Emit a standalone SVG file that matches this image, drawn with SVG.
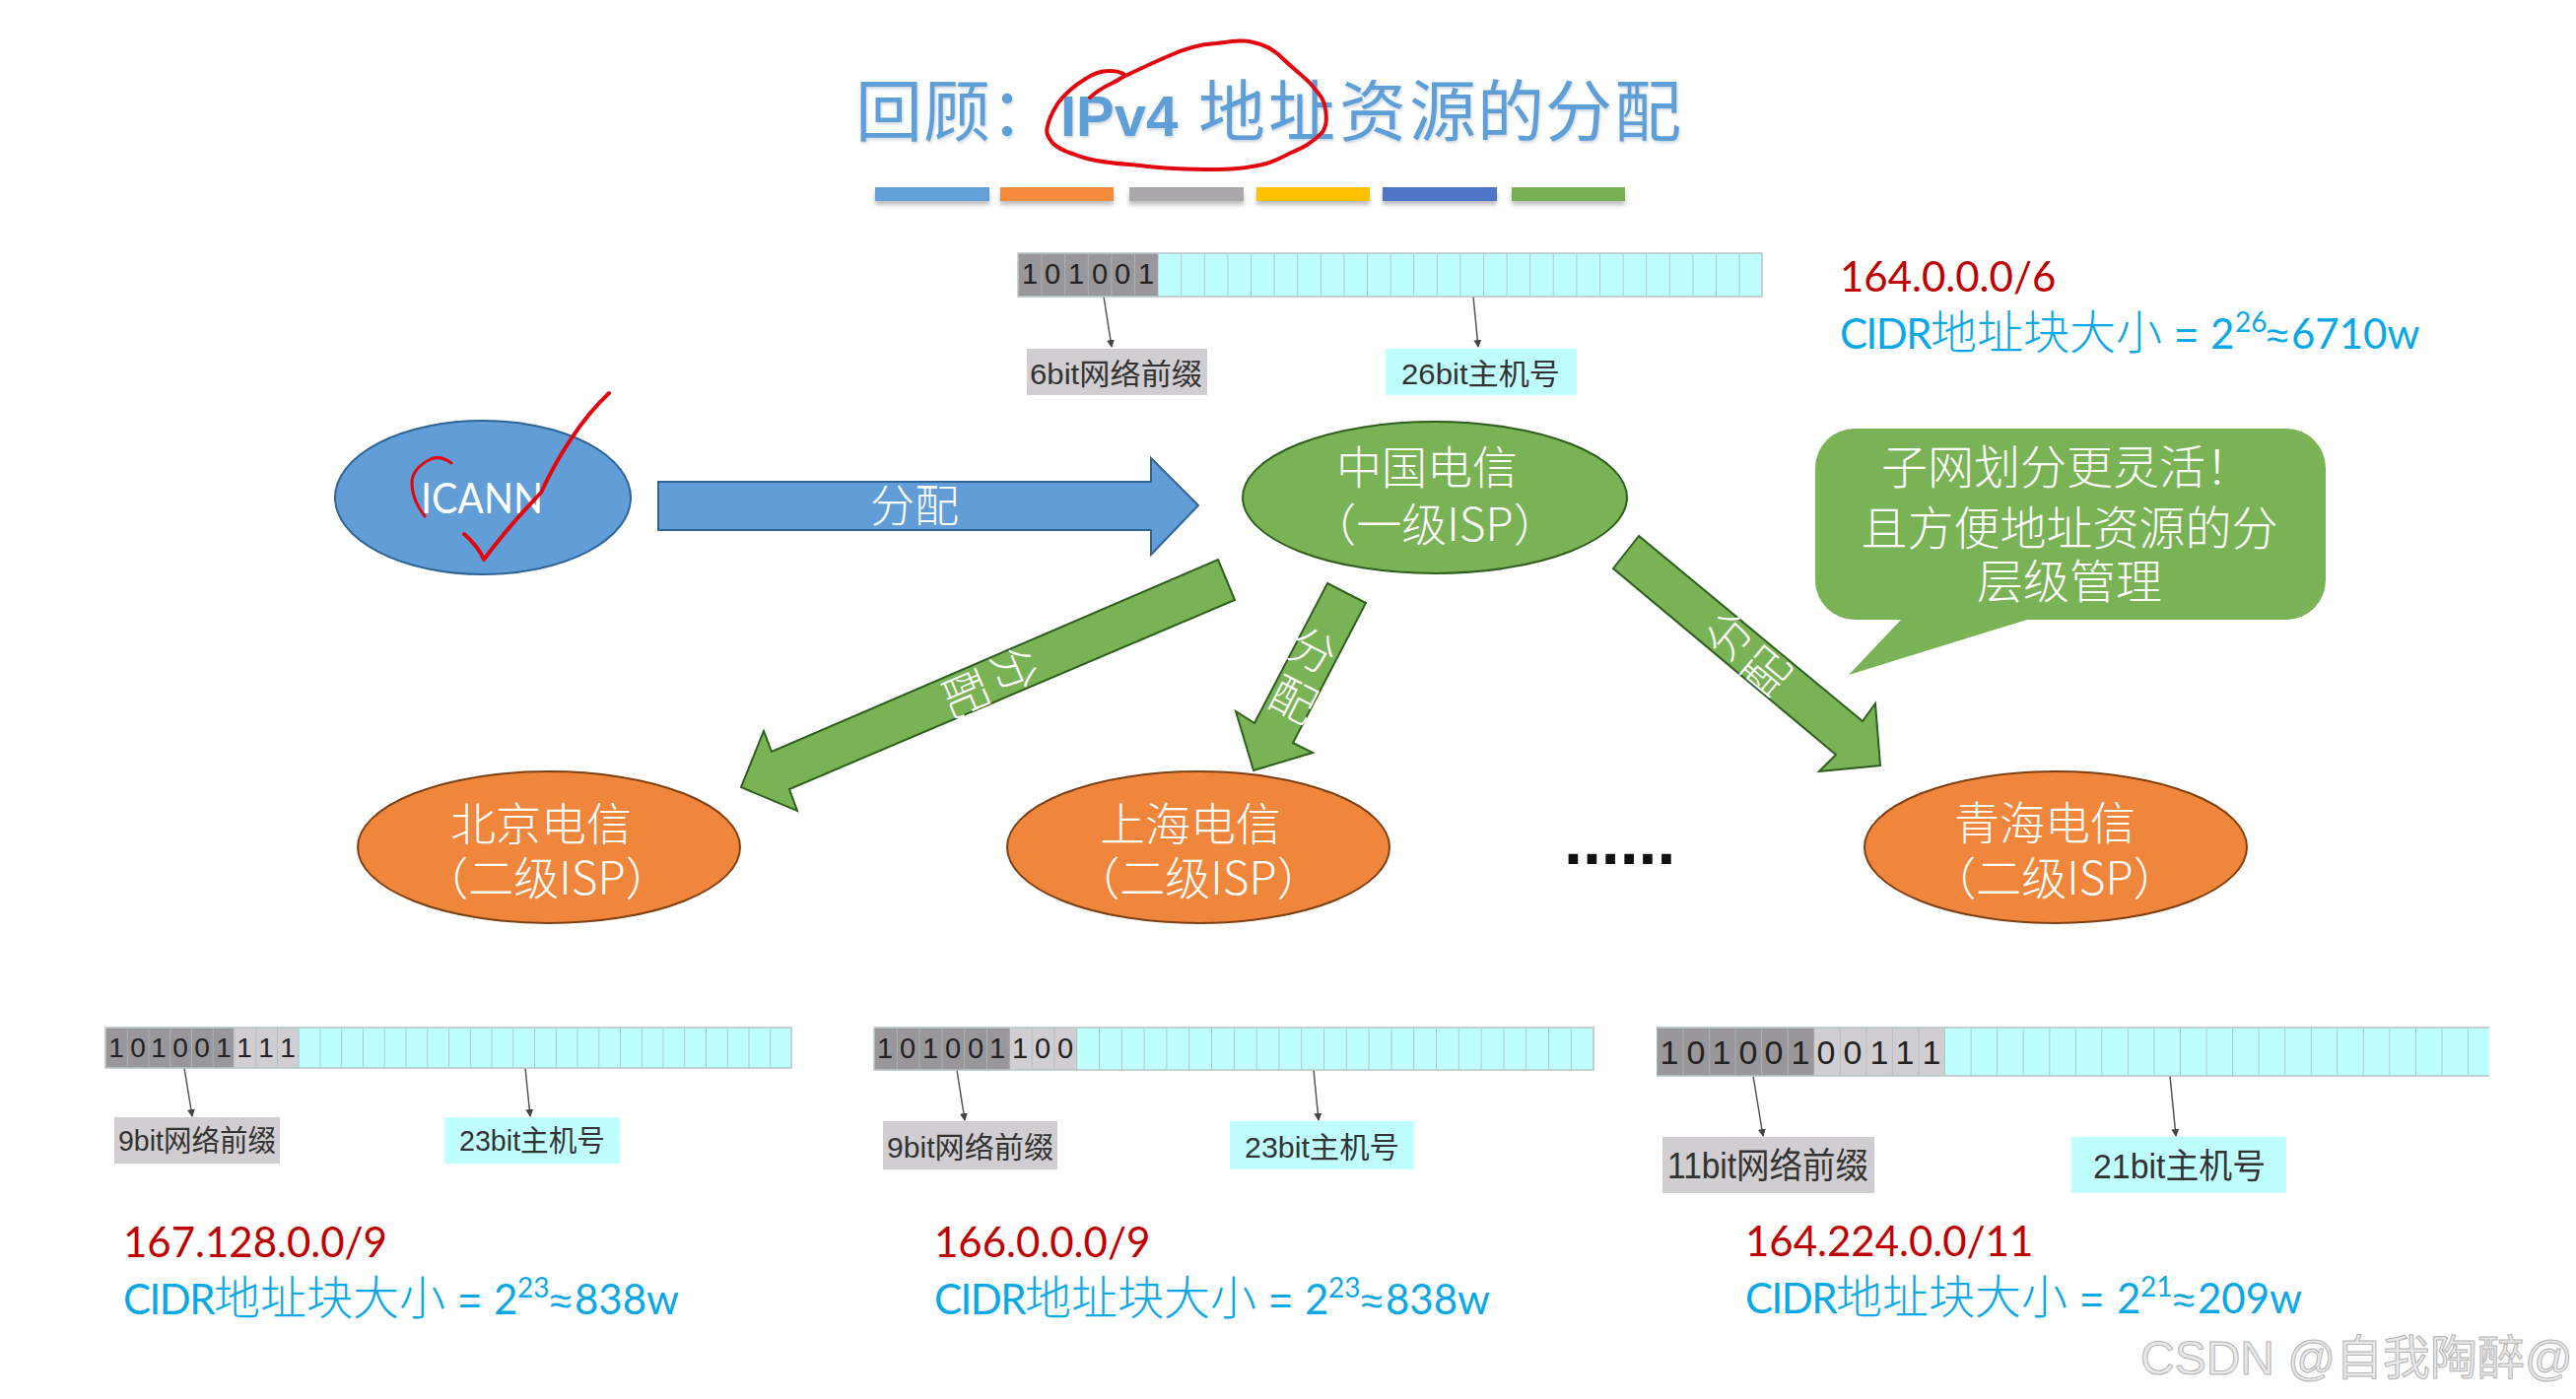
<svg xmlns="http://www.w3.org/2000/svg" width="2614" height="1420" viewBox="0 0 2614 1420">
<style>
text{font-family:"Noto Sans CJK SC","Liberation Sans",sans-serif}
.title{font-size:68px;fill:#5f9fd8;font-weight:400}
.titlel{font-family:"Liberation Sans","Noto Sans CJK SC",sans-serif;font-weight:700;font-size:58px}
.w{fill:#fff;text-anchor:middle;font-weight:300}
.node{font-size:46px}
.call{font-size:47px}
.lab{font-family:"Liberation Sans","Noto Sans CJK SC",sans-serif;fill:#333;font-size:30px}
.dig{font-family:"Liberation Sans",sans-serif;fill:#222;text-anchor:middle}
.red{font-family:Lato,"Noto Sans CJK SC",sans-serif;font-size:42px;fill:#c00000}
.cyan{font-family:Lato,"Noto Sans CJK SC",sans-serif;font-size:42px;fill:#0aa8e6}
.cn{font-family:"Noto Sans CJK SC",sans-serif;font-size:47px;font-weight:300}
.sup{font-size:28px}
.eq{font-family:"Liberation Sans",sans-serif;font-size:40px}
.blue{fill:#619dd7;stroke:#2f6496;stroke-width:2}
.green{fill:#7ab356;stroke:#2f5f1e;stroke-width:2}
.orange{fill:#f0853c;stroke:#7d4013;stroke-width:2}
.dark{fill:#99979a}
.light{fill:#d0ced0}
.host{fill:#c0ffff}
.frame{stroke:#b8c4c4;stroke-width:1.5}
.leader{stroke:#555;stroke-width:1.5;fill:none;marker-end:url(#tip)}
.ink{fill:none;stroke:#e4060f;stroke-width:4;stroke-linecap:round;stroke-linejoin:round}
.bar{filter:url(#sh)}
</style>
<defs>
<marker id="tip" viewBox="0 0 8 10" refX="7" refY="5" markerWidth="8" markerHeight="10" markerUnits="userSpaceOnUse" orient="auto"><path d="M0,1 L8,5 L0,9 Z" fill="#444"/></marker>
<filter id="sh" x="-5%" y="-20%" width="110%" height="180%"><feDropShadow dx="0" dy="4" stdDeviation="2" flood-color="#888" flood-opacity=".55"/></filter>
<filter id="tsh" x="-5%" y="-10%" width="110%" height="125%"><feDropShadow dx="1" dy="2" stdDeviation="1.5" flood-color="#9ab" flood-opacity=".5"/></filter>
<pattern id="c0" patternUnits="userSpaceOnUse" x="1033" y="257" width="23.6" height="44"><path d="M0,0V44" stroke="#a8bcbc" stroke-width="1.5"/></pattern>
<pattern id="c1" patternUnits="userSpaceOnUse" x="107" y="1043" width="21.75" height="41"><path d="M0,0V41" stroke="#a8bcbc" stroke-width="1.5"/></pattern>
<pattern id="c2" patternUnits="userSpaceOnUse" x="887" y="1043" width="22.8" height="43"><path d="M0,0V43" stroke="#a8bcbc" stroke-width="1.5"/></pattern>
<pattern id="c3" patternUnits="userSpaceOnUse" x="1681" y="1043" width="26.55" height="49"><path d="M0,0V49" stroke="#a8bcbc" stroke-width="1.5"/></pattern>
</defs>
<rect width="2614" height="1420" fill="#fff"/>

<g id="title" filter="url(#tsh)">
<text class="title" y="138" x="868 937 1005">回顾：</text>
<text class="title titlel" x="1076" y="138">IPv4</text>
<text class="title" y="138" x="1216 1287 1359 1430 1499 1568 1638">地址资源的分配</text>
</g>
<g id="colour-bars" class="bar">
<rect x="888" y="190" width="116" height="14" fill="#62a0d8"/>
<rect x="1015" y="190" width="115" height="14" fill="#f58a3c"/>
<rect x="1146" y="190" width="116" height="14" fill="#aaa8aa"/>
<rect x="1275" y="190" width="115" height="14" fill="#ffc000"/>
<rect x="1403" y="190" width="116" height="14" fill="#4f76c6"/>
<rect x="1534" y="190" width="115" height="14" fill="#76b053"/>
</g>

<g id="connectors">
<polygon id="arrow-icann-telecom" class="blue" points="668,489 1168,489 1168,465 1216,513 1168,563 1168,538 668,538"/>
<polygon id="arrow-beijing" class="green" points="1236,568 1253,609 801,801 809,823 752,799 775,742 783,763"/>
<polygon id="arrow-shanghai" class="green" points="1347,592 1386,612 1312,754 1332,764 1272,782 1254,722 1273,734"/>
<polygon id="arrow-qinghai" class="green" points="1663,544 1637,577 1863,766 1846,783 1908,777 1903,714 1890,732"/>
<line class="leader" x1="1120" y1="301" x2="1128" y2="352"/>
<line class="leader" x1="1495" y1="301" x2="1500" y2="352"/>
<line class="leader" x1="187" y1="1084" x2="195" y2="1133"/>
<line class="leader" x1="533" y1="1084" x2="538" y2="1133"/>
<line class="leader" x1="971" y1="1086" x2="979" y2="1137"/>
<line class="leader" x1="1333" y1="1086" x2="1338" y2="1137"/>
<line class="leader" x1="1779" y1="1092" x2="1789" y2="1153"/>
<line class="leader" x1="2202" y1="1092" x2="2208" y2="1153"/>
<text class="w" x="928" y="530" font-size="45">分配</text>
<text class="w" font-size="46" transform="translate(1029,680) rotate(67) translate(0,16)">分</text>
<text class="w" font-size="46" transform="translate(979,704) rotate(67) translate(0,16)">配</text>
<text class="w" font-size="46" transform="translate(1332,661) rotate(27) translate(0,16)">分</text>
<text class="w" font-size="46" transform="translate(1312,711) rotate(27) translate(0,16)">配</text>
<text class="w" font-size="46" transform="translate(1755,645) rotate(-50) translate(0,16)">分</text>
<text class="w" font-size="46" transform="translate(1793,682) rotate(-50) translate(0,16)">配</text>
</g>

<g id="node-icann">
<ellipse class="blue" cx="490" cy="505" rx="150" ry="78"/>
<text x="427" y="521" style="font-family:Lato,sans-serif" font-size="42" fill="#fff" textLength="124" lengthAdjust="spacingAndGlyphs">ICANN</text>
</g>
<g id="node-telecom">
<ellipse class="green" cx="1456" cy="505" rx="195" ry="77"/>
<text class="w node" x="1448" y="491">中国电信</text>
<text class="w node" x="1456" y="549">（一级ISP）</text>
</g>
<g id="node-beijing">
<ellipse class="orange" cx="557" cy="860" rx="194" ry="77"/>
<text class="w node" x="549" y="853">北京电信</text>
<text class="w node" x="555" y="908">（二级ISP）</text>
</g>
<g id="node-shanghai">
<ellipse class="orange" cx="1216" cy="860" rx="194" ry="77"/>
<text class="w node" x="1208" y="853">上海电信</text>
<text class="w node" x="1216" y="908">（二级ISP）</text>
</g>
<g id="node-qinghai">
<ellipse class="orange" cx="2086" cy="860" rx="194" ry="77"/>
<text class="w node" x="2075" y="852">青海电信</text>
<text class="w node" x="2085" y="908">（二级ISP）</text>
</g>
<g id="ellipsis"><text x="1587" y="877" font-size="68" font-weight="700" style="font-family:'Liberation Sans',sans-serif" fill="#111">......</text></g>
<g id="callout">
<path d="M1882,435 H2320 A40,40 0 0 1 2360,475 V589 A40,40 0 0 1 2320,629 H2057 L1876,685 L1929,629 H1882 A40,40 0 0 1 1842,589 V475 A40,40 0 0 1 1882,435 Z" fill="#7ab356"/>
<text class="w call" x="2097" y="491">子网划分更灵活！</text>
<text class="w call" x="2100" y="553">且方便地址资源的分</text>
<text class="w call" x="2100" y="607">层级管理</text>
</g>

<g id="block-top">
<rect class="dark" x="1033" y="257" width="142" height="44"/>
<rect class="host" x="1175" y="257" width="613" height="44"/>
<rect class="frame" x="1033" y="257" width="755" height="44" fill="url(#c0)"/>
<text class="dig" font-size="29" y="288" x="1045 1068 1092 1116 1139 1163">101001</text>
<rect x="1042" y="354" width="183" height="47" fill="#d0ced0"/>
<text class="lab" x="1045" y="390" textLength="175" lengthAdjust="spacingAndGlyphs">6bit网络前缀</text>
<rect x="1406" y="354" width="194" height="47" fill="#c0ffff"/>
<text class="lab" x="1422" y="390" textLength="161" lengthAdjust="spacingAndGlyphs">26bit主机号</text>
<text class="red" x="1867" y="296">164.0.0.0/6</text>
<text class="cyan" y="354"><tspan x="1867" letter-spacing="-1.5">CIDR</tspan><tspan class="cn" x="1959">地址块大小</tspan><tspan class="eq" x="2207">=</tspan><tspan x="2243">2</tspan><tspan class="sup" x="2268" dy="-17">26</tspan><tspan class="eq" x="2300" dy="17">≈</tspan><tspan x="2325">6710w</tspan></text>
</g>
<g id="block-beijing">
<rect class="dark" x="107" y="1043" width="130" height="41"/>
<rect class="light" x="237" y="1043" width="66" height="41"/>
<rect class="host" x="303" y="1043" width="500" height="41"/>
<rect class="frame" x="107" y="1043" width="696" height="41" fill="url(#c1)"/>
<text class="dig" font-size="28" y="1073" x="118 140 161 183 205 227 248 270 292">101001111</text>
<rect x="116" y="1134" width="168" height="47" fill="#d0ced0"/>
<text class="lab" x="120" y="1168" textLength="160" lengthAdjust="spacingAndGlyphs">9bit网络前缀</text>
<rect x="451" y="1134" width="178" height="47" fill="#c0ffff"/>
<text class="lab" x="466" y="1168" textLength="148" lengthAdjust="spacingAndGlyphs">23bit主机号</text>
<text class="red" x="125" y="1276">167.128.0.0/9</text>
<text class="cyan" y="1334"><tspan x="125" letter-spacing="-1.5">CIDR</tspan><tspan class="cn" x="217">地址块大小</tspan><tspan class="eq" x="465">=</tspan><tspan x="501">2</tspan><tspan class="sup" x="525" dy="-17">23</tspan><tspan class="eq" x="558" dy="17">≈</tspan><tspan x="583">838w</tspan></text>
</g>
<g id="block-shanghai">
<rect class="dark" x="887" y="1043" width="138" height="43"/>
<rect class="light" x="1025" y="1043" width="68" height="43"/>
<rect class="host" x="1093" y="1043" width="524" height="43"/>
<rect class="frame" x="887" y="1043" width="730" height="43" fill="url(#c2)"/>
<text class="dig" font-size="29" y="1074" x="898 921 944 967 990 1012 1035 1058 1081">101001100</text>
<rect x="896" y="1138" width="177" height="49" fill="#d0ced0"/>
<text class="lab" x="900" y="1175" textLength="169" lengthAdjust="spacingAndGlyphs">9bit网络前缀</text>
<rect x="1248" y="1138" width="187" height="49" fill="#c0ffff"/>
<text class="lab" x="1263" y="1175" textLength="157" lengthAdjust="spacingAndGlyphs">23bit主机号</text>
<text class="red" x="948" y="1276">166.0.0.0/9</text>
<text class="cyan" y="1334"><tspan x="948" letter-spacing="-1.5">CIDR</tspan><tspan class="cn" x="1040">地址块大小</tspan><tspan class="eq" x="1288">=</tspan><tspan x="1324">2</tspan><tspan class="sup" x="1348" dy="-17">23</tspan><tspan class="eq" x="1381" dy="17">≈</tspan><tspan x="1406">838w</tspan></text>
</g>
<g id="block-qinghai">
<rect class="dark" x="1681" y="1043" width="160" height="49"/>
<rect class="light" x="1841" y="1043" width="132" height="49"/>
<rect class="host" x="1973" y="1043" width="553" height="49"/>
<rect x="1681" y="1043" width="845" height="49" fill="url(#c3)"/>
<path d="M1681,1043H2526M1681,1092H2526" class="frame" fill="none"/>
<text class="dig" font-size="34" y="1080" x="1694 1721 1747 1774 1800 1827 1853 1880 1907 1933 1960">10100100111</text>
<rect x="1687" y="1154" width="215" height="57" fill="#d0ced0"/>
<text class="lab" x="1692" y="1196" style="font-size:36px" textLength="204" lengthAdjust="spacingAndGlyphs">11bit网络前缀</text>
<rect x="2102" y="1154" width="218" height="57" fill="#c0ffff"/>
<text class="lab" x="2124" y="1196" style="font-size:35px" textLength="175" lengthAdjust="spacingAndGlyphs">21bit主机号</text>
<text class="red" x="1771" y="1275">164.224.0.0/11</text>
<text class="cyan" y="1333"><tspan x="1771" letter-spacing="-1.5">CIDR</tspan><tspan class="cn" x="1863">地址块大小</tspan><tspan class="eq" x="2111">=</tspan><tspan x="2148">2</tspan><tspan class="sup" x="2172" dy="-17">21</tspan><tspan class="eq" x="2205" dy="17">≈</tspan><tspan x="2230">209w</tspan></text>
</g>

<g id="annotations">
<path class="ink" d="M1106,99 C1120,86 1128,86 1138,79 C1152,72 1165,66 1183,58 C1200,50 1215,45 1234,44 C1250,42 1262,40 1272,43 C1285,46 1290,50 1297,55 C1310,68 1320,75 1329,84 C1338,95 1344,100 1345,111 C1347,122 1346,128 1342,134 C1332,145 1322,150 1310,155 C1300,160 1295,163 1285,166 C1265,171 1250,172 1234,172 C1205,172 1180,171 1157,168 C1135,166 1115,165 1100,160 C1085,155 1075,152 1068,145 C1063,138 1061,135 1063,128 C1065,118 1069,112 1074,104 C1082,94 1090,87 1100,81 C1110,74 1118,72 1125,72 C1132,72 1138,73 1141,76"/>
<path id="tick" class="ink" d="M471,542 C480,550 487,558 491,568 C515,535 535,515 549,500 C565,465 590,425 618,399"/>
<path id="c-mark" class="ink" style="stroke-width:3" d="M458,470 C450,464 442,464 437,466 C425,472 418,480 418,490 C418,505 424,515 431,524"/>
</g>
<g id="watermark"><text x="2172" y="1395" font-size="48" style="font-family:'Liberation Sans','Noto Sans CJK SC',sans-serif" fill="#e8e8e8" stroke="#b5b5b5" stroke-width="1">CSDN @自我陶醉@</text></g>
</svg>
